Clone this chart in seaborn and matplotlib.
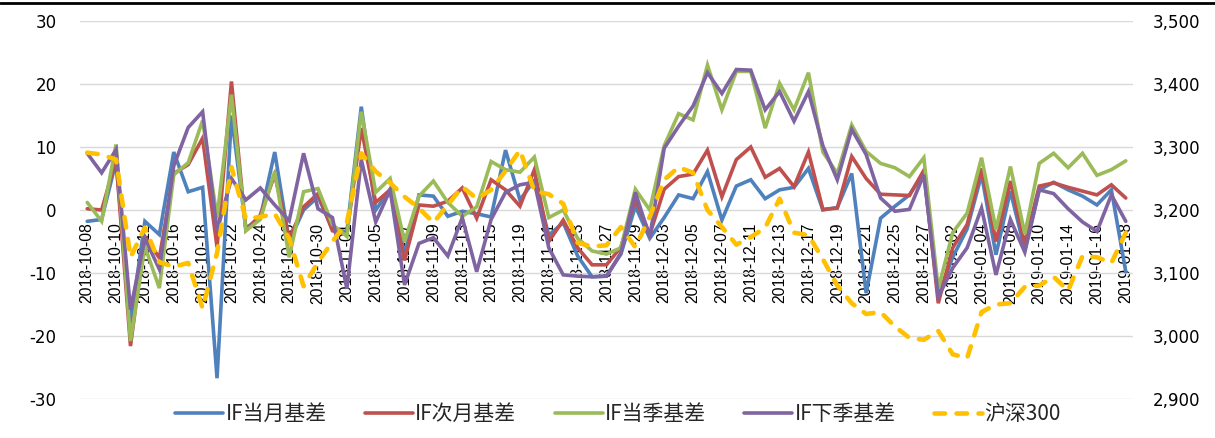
import matplotlib
matplotlib.use("Agg")
import matplotlib.pyplot as plt
import seaborn as sns
import numpy as np
from matplotlib.ticker import MultipleLocator, FuncFormatter

# ---------------- data ----------------
dates = [
    "2018-10-08", "2018-10-09", "2018-10-10", "2018-10-11", "2018-10-12",
    "2018-10-15", "2018-10-16", "2018-10-17", "2018-10-18", "2018-10-19",
    "2018-10-22", "2018-10-23", "2018-10-24", "2018-10-25", "2018-10-26",
    "2018-10-29", "2018-10-30", "2018-10-31", "2018-11-01", "2018-11-02",
    "2018-11-05", "2018-11-06", "2018-11-07", "2018-11-08", "2018-11-09",
    "2018-11-12", "2018-11-13", "2018-11-14", "2018-11-15", "2018-11-16",
    "2018-11-19", "2018-11-20", "2018-11-21", "2018-11-22", "2018-11-23",
    "2018-11-26", "2018-11-27", "2018-11-28", "2018-11-29", "2018-11-30",
    "2018-12-03", "2018-12-04", "2018-12-05", "2018-12-06", "2018-12-07",
    "2018-12-10", "2018-12-11", "2018-12-12", "2018-12-13", "2018-12-14",
    "2018-12-17", "2018-12-18", "2018-12-19", "2018-12-20", "2018-12-21",
    "2018-12-24", "2018-12-25", "2018-12-26", "2018-12-27", "2018-12-28",
    "2019-01-02", "2019-01-03", "2019-01-04", "2019-01-07", "2019-01-08",
    "2019-01-09", "2019-01-10", "2019-01-11", "2019-01-14", "2019-01-15",
    "2019-01-16", "2019-01-17", "2019-01-18",
]

if_cur_month = [
    -1.8, -1.5, 7.7, -18.0, -1.8, -3.9, 9.2, 2.9, 3.6, -26.7,
    15.0, -2.9, -1.2, 9.2, -5.0, 0.0, 2.1, -3.0, -3.5, 16.4,
    0.0, 3.3, -7.0, 2.4, 2.2, -1.0, -0.2, -0.6, -1.1, 9.5,
    1.6, 4.7, -4.0, -2.0, -7.3, -10.6, -10.5, -7.0, 0.6, -4.5,
    -1.2, 2.4, 1.8, 6.1, -1.6, 3.8, 4.8, 1.8, 3.2, 3.6,
    6.6, 0.0, 0.4, 5.8, -13.2, -1.3, 0.6, 2.4, 5.9, -13.5,
    -7.5, -3.0, 5.6, -7.1, 3.0, -6.3, 3.2, 4.4, 3.2, 2.2,
    0.8, 3.2, -9.8,
]

if_next_month = [
    0.2, 0.0, 8.0, -21.6, -4.2, -7.6, 5.8, 7.2, 11.4, -5.9,
    20.4, -3.2, -0.8, 5.6, -4.5, 0.5, 2.6, -3.3, -3.8, 13.0,
    1.2, 3.2, -8.0, 0.8, 0.6, 1.4, 3.5, -1.3, 4.8, 3.2,
    0.6, 6.4, -5.0, -1.6, -6.0, -8.7, -8.7, -5.9, 1.8, -3.9,
    3.3, 5.3, 5.7, 9.5, 2.1, 8.0, 10.0, 5.2, 6.6, 3.7,
    9.2, 0.1, 0.3, 8.5, 5.0, 2.5, 2.4, 2.3, 6.3, -14.8,
    -6.0, -2.3, 6.6, -5.0, 4.6, -5.4, 3.8, 4.3, 3.6, 3.0,
    2.4, 4.0, 1.9,
]

if_cur_quarter = [
    1.2, -1.8, 10.4, -20.8, -5.8, -12.4, 5.6, 7.5, 14.2, -1.2,
    18.3, -3.3, -1.5, 6.1, -7.5, 2.9, 3.4, -2.3, -4.2, 15.6,
    2.8, 5.0, -5.0, 2.2, 4.6, 1.2, -1.0, 0.5, 7.7, 6.4,
    6.0, 8.4, -1.2, 0.0, -4.5, -6.5, -7.0, -6.0, 3.3, 0.0,
    10.2, 15.3, 14.3, 23.0, 15.9, 22.0, 22.0, 13.0, 20.1, 15.9,
    21.8, 9.2, 5.8, 13.5, 9.3, 7.4, 6.7, 5.3, 8.3, -12.5,
    -3.6, -0.5, 8.3, -3.1, 6.9, -3.8, 7.4, 9.0, 6.7, 9.0,
    5.5, 6.4, 7.8,
]

if_next_quarter = [
    9.0, 5.9, 9.6, -15.8, -4.5, -9.4, 7.0, 13.1, 15.6, -3.3,
    5.0, 1.6, 3.5, 0.8, -1.7, 9.0, 0.2, -1.2, -12.5, 8.0,
    -1.9, 3.2, -11.9, -5.3, -4.4, -7.3, -1.2, -9.8, -1.5, 2.8,
    4.0, 4.4, -6.0, -10.3, -10.5, -10.6, -10.5, -6.8, 2.8, -4.3,
    9.8, 13.3, 16.5, 21.8, 18.5, 22.3, 22.2, 15.9, 18.8, 14.1,
    18.8, 10.2, 4.8, 12.8, 8.8, 1.9, -0.2, 0.1, 5.6, -13.8,
    -9.2, -6.0, 0.3, -10.3, -1.5, -6.7, 3.2, 2.6, 0.2, -1.9,
    -3.4, 2.4, -1.8,
]

hs300 = [
    3291, 3288, 3280, 3125, 3172, 3117, 3110, 3116, 3044, 3132,
    3268, 3186, 3189, 3194, 3155, 3079, 3117, 3150, 3180, 3290,
    3261, 3243, 3221, 3203, 3180, 3208, 3237, 3218, 3232, 3262,
    3295, 3230, 3225, 3210, 3148, 3142, 3144, 3173, 3141, 3189,
    3248, 3268, 3259, 3200, 3173, 3145, 3157, 3172, 3218, 3164,
    3160, 3122, 3080, 3052, 3035, 3038, 3015, 2997, 2994, 3008,
    2971, 2965, 3038, 3050, 3052, 3078, 3080, 3094, 3072, 3127,
    3125, 3116, 3164,
]

series_names = ["IF当月基差", "IF次月基差", "IF当季基差", "IF下季基差"]
series_values = [if_cur_month, if_next_month, if_cur_quarter, if_next_quarter]
series_colors = ["#4F81BD", "#C0504D", "#9BBB59", "#8064A2"]
index_name = "沪深300"
index_color = "#FFC000"

# ---------------- plot ----------------
sns.set_theme(style="white")
plt.rcParams["font.family"] = ["DejaVu Sans"]
plt.rcParams["axes.unicode_minus"] = False

W, H = 1215, 438
fig = plt.figure(figsize=(W / 100, H / 100), dpi=100)
left, right, top, bottom = 80, 1133, 21, 399
ax = fig.add_axes([left / W, 1 - bottom / H, (right - left) / W, (bottom - top) / H])
ax2 = ax.twinx()

x = np.arange(len(dates))
for name, vals, col in zip(series_names, series_values, series_colors):
    sns.lineplot(x=x, y=vals, ax=ax, color=col, linewidth=2.6, label=name,
                 zorder=3, solid_joinstyle="miter")

sns.lineplot(x=x, y=hs300, ax=ax2, color=index_color, linewidth=3.3, label=index_name)
yl = ax2.lines[0]
yl.set_linestyle((0, (2.3, 2.5)))
yl.set_dash_capstyle("round")

ax.set_xlim(-0.5, len(dates) - 0.5)
ax.set_ylim(-30, 30)
ax.yaxis.set_major_locator(MultipleLocator(10))
ax2.set_ylim(2900, 3500)
ax2.yaxis.set_major_locator(MultipleLocator(100))
ax2.yaxis.set_major_formatter(FuncFormatter(lambda v, p: f"{v:,.0f}"))

ax.set_axisbelow(True)
ax.grid(axis="y", color="#D9D9D9", linewidth=1.0)
ax.grid(axis="x", visible=False)

for a in (ax, ax2):
    for s in a.spines.values():
        s.set_visible(False)
    a.set_xlabel("")
    a.set_ylabel("")

ax.spines["bottom"].set_position(("data", 0))
ax.set_xticks(x[::2])
ax.set_xticklabels([dates[i] for i in x[::2]], rotation=90,
                   fontfamily="Liberation Sans", fontsize=11.3, color="black")
ax.tick_params(axis="x", length=0, pad=9)
ax.tick_params(axis="y", length=0, pad=17, labelsize=12, labelcolor="black")
ax2.tick_params(axis="y", length=0, pad=14, labelsize=12, labelcolor="black")

# top rule
fig.add_artist(plt.Line2D([0, 1], [1 - 3 / H, 1 - 3 / H], color="black",
                          linewidth=2, transform=fig.transFigure))

# legend
h1, l1 = ax.get_legend_handles_labels()
h2, l2 = ax2.get_legend_handles_labels()
for a in (ax, ax2):
    if a.legend_ is not None:
        a.legend_.remove()
fig.legend(h1 + h2, l1 + l2, loc="center", bbox_to_anchor=(618 / W, 1 - 414 / H),
           ncol=5, frameon=False,
           prop={"family": ["Noto Sans CJK SC", "DejaVu Sans"], "size": 15},
           handlelength=2.3, handletextpad=0.1, columnspacing=1.85)

fig.savefig("out.png", dpi=100)
